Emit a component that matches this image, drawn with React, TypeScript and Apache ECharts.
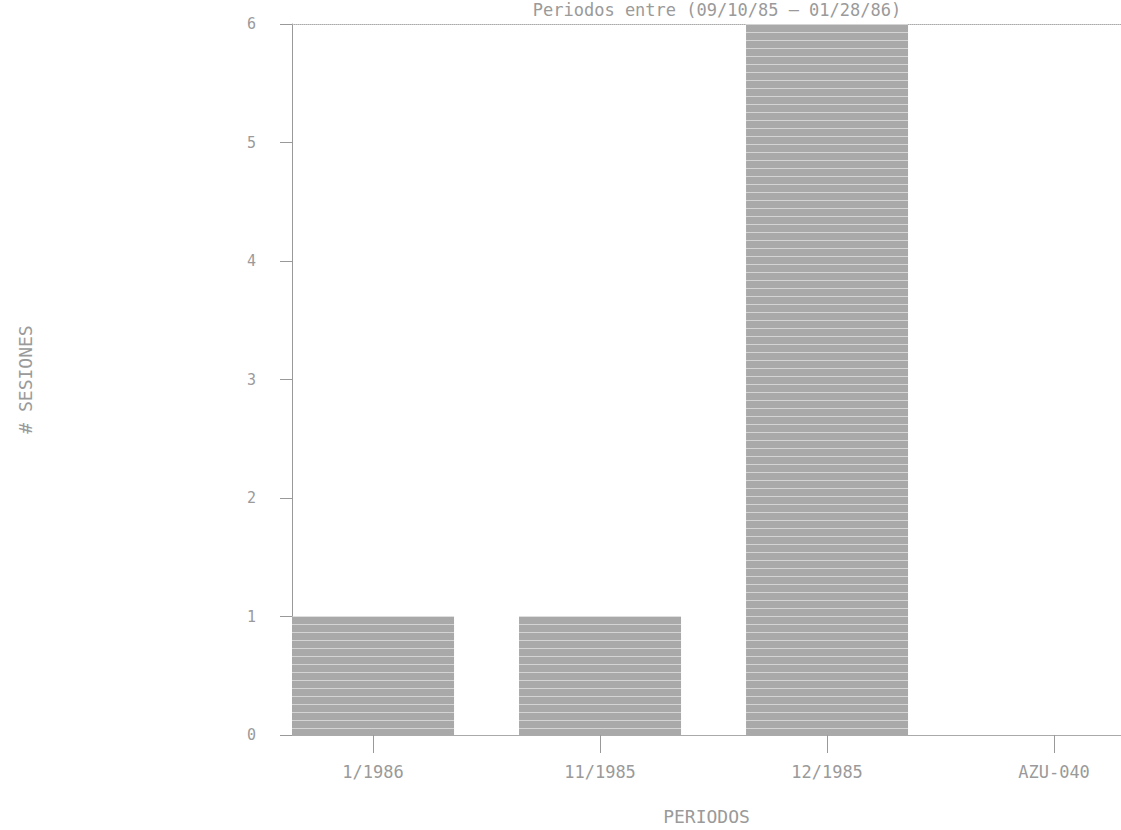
import React, { useEffect, useRef } from "react";
import * as echarts from "echarts";

const categories = ["1/1986", "11/1985", "12/1985", "AZU-040"];
const values = [1, 1, 6, 0];
const yTicks = [0, 1, 2, 3, 4, 5, 6];
const titleText = "Periodos entre (09/10/85 \u2014 01/28/86)";
const yName = "# SESIONES";
const xName = "PERIODOS";

const FONT = "DejaVu Sans Mono";
const TXT = "#9a9a9a";
const positions = categories.map((_, i) => i);

export default function App() {
  const ref = useRef<HTMLDivElement>(null);
  useEffect(() => {
    if (!ref.current) return;
    const chart = echarts.init(ref.current, null, { renderer: "svg" });
    chart.setOption({
      animation: false,
      backgroundColor: "#ffffff",
      title: {
        text: titleText,
        left: 712,
        textAlign: "center",
        top: -4,
        textStyle: { fontFamily: FONT, fontSize: 17, fontWeight: "normal", color: TXT },
      },
      grid: { left: 292, right: 0, top: 24, bottom: 93 },
      xAxis: [
        {
          type: "value",
          min: -0.357,
          max: 3.295,
          position: "bottom",
          splitLine: { show: false },
          axisLine: { show: true, onZero: false, lineStyle: { color: "#aaa", width: 1 } },
          axisTick: {
            show: true,
            length: 18,
            customValues: positions,
            lineStyle: { color: "#999" },
          },
          axisLabel: {
            customValues: positions,
            margin: 28,
            fontFamily: FONT,
            fontSize: 17,
            color: TXT,
            formatter: (v: number) => categories[Math.round(v)] ?? "",
          },
          name: xName,
          nameLocation: "middle",
          nameGap: 72,
          nameTextStyle: { fontFamily: FONT, fontSize: 18, color: TXT },
        },
        {
          type: "value",
          min: 0,
          max: 1,
          position: "top",
          splitLine: { show: false },
          axisLine: { show: true, onZero: false, lineStyle: { color: "#aaa", width: 1, type: "dotted" } },
          axisTick: { show: false },
          axisLabel: { show: false },
        },
      ],
      yAxis: {
        type: "value",
        min: yTicks[0],
        max: yTicks[yTicks.length - 1],
        interval: 1,
        position: "left",
        axisLine: { show: true, onZero: false, lineStyle: { color: "#999", width: 1 } },
        axisTick: { show: true, length: 12, lineStyle: { color: "#999" } },
        axisLabel: { margin: 36, fontFamily: FONT, fontSize: 15, color: TXT },
        splitLine: { show: false },
        name: yName,
        nameLocation: "middle",
        nameGap: 258,
        nameRotate: 90,
        nameTextStyle: { fontFamily: FONT, fontSize: 18, color: TXT },
      },
      series: [
        {
          type: "bar",
          xAxisIndex: 0,
          data: values.map((v, i) => [positions[i], v]),
          barWidth: 162,
          itemStyle: {
            color: "#a9a9a9",
            decal: {
              symbol: "rect",
              dashArrayX: [1, 0],
              dashArrayY: [1, 7],
              rotation: 0,
              color: "rgba(255,255,255,0.5)",
            },
          },
        },
      ],
    });
    return () => chart.dispose();
  }, []);
  return (
    <div
      ref={ref}
      style={{ position: "fixed", left: 0, top: 0, width: 1121, height: 830 }}
    />
  );
}
